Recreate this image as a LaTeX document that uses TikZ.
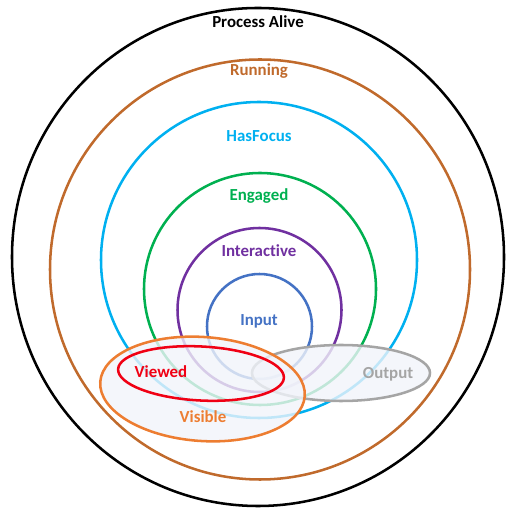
\documentclass[tikz,border=0pt]{standalone}
\usepackage{fontspec}
\setmainfont{Carlito}[Ligatures=NoCommon]
\definecolor{alivecol}{RGB}{0,0,0}
\definecolor{runcol}{RGB}{192,106,44}
\definecolor{focuscol}{RGB}{0,176,240}
\definecolor{engcol}{RGB}{0,176,80}
\definecolor{intercol}{RGB}{112,48,160}
\definecolor{inputcol}{RGB}{68,114,196}
\definecolor{viewcol}{RGB}{240,0,20}
\definecolor{viscol}{RGB}{237,125,49}
\definecolor{outcol}{RGB}{165,165,165}
\definecolor{hazecol}{RGB}{241,244,250}
\tikzset{
	ring/.style={line width=1.8pt},
	haze/.style={line width=1.8pt, fill=hazecol, fill opacity=0.8},
	lbl/.style={font=\fontsize{12}{14}\selectfont\bfseries, inner sep=1pt},
}
\begin{document}
\begin{tikzpicture}[x=0.25mm,y=0.25mm]
	\useasboundingbox (0,0) rectangle (505,508);
	% nested states
	\draw[ring,alivecol] (258,251) ellipse [x radius=246, y radius=249];
	\draw[ring,runcol]   (260,238.5) circle [radius=210];
	\draw[ring,focuscol] (259,248) circle [radius=158];
	\draw[ring,engcol]   (260,219) circle [radius=116];
	\draw[ring,intercol] (259.5,198) circle [radius=82];
	\draw[ring,inputcol] (259.5,181.5) circle [radius=52.5];
	%
	\draw[haze,draw=outcol] (341,135) ellipse [x radius=89, y radius=28];
	\draw[haze,draw=viscol,rotate around={-4:(202.5,119)}] (202.5,119) ellipse [x radius=102.5, y radius=52];
	\draw[ring,viewcol,rotate around={-3:(201,134.5)}] (201,134.5) ellipse [x radius=83, y radius=27];
	%
	\node (alive)   at (258,486) [lbl,alivecol] {Process Alive};
	\node (running) at (259,437) [lbl,runcol]   {Running};
	\node (focus)   at (259,372) [lbl,focuscol] {HasFocus};
	\node (engaged) at (259,312) [lbl,engcol]   {Engaged};
	\node (inter)   at (259,257) [lbl,intercol] {Interactive};
	\node (input)   at (259,187) [lbl,inputcol] {Input};
	%
	\node (viewed)  at (161,136) [lbl,viewcol]  {Viewed};
	\node (output)  at (388,134) [lbl,outcol]   {Output};
	\node (visible) at (203,91)  [lbl,viscol]   {Visible};
\end{tikzpicture}
\end{document}
